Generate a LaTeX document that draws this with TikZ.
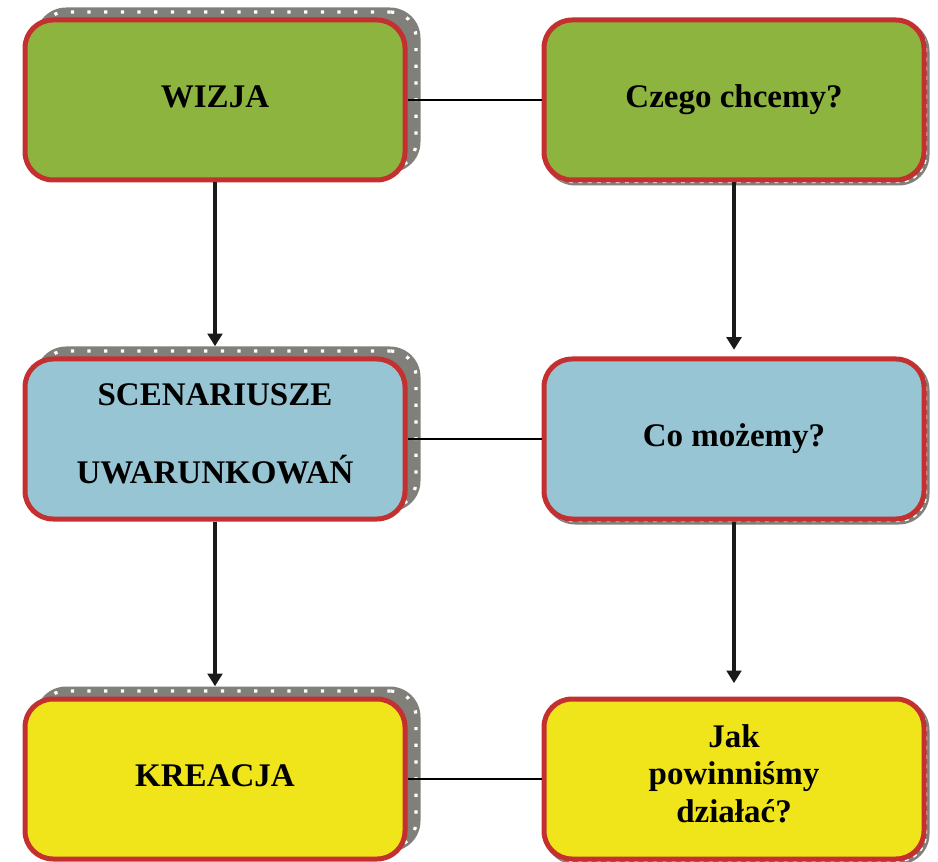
\documentclass[tikz,border=0pt]{standalone}
\usepackage{fontspec}
\setmainfont{Liberation Serif}
\usetikzlibrary{arrows.meta}

\definecolor{boxgreen}{RGB}{142,180,64}
\definecolor{boxblue}{RGB}{151,197,211}
\definecolor{boxyellow}{RGB}{240,228,26}
\definecolor{boxred}{RGB}{196,48,47}
\definecolor{shadowgray}{RGB}{128,127,122}
\definecolor{arrowblack}{RGB}{26,26,26}

\begin{document}
\begin{tikzpicture}[x=0.75pt,y=-0.75pt,
  box/.style={draw=boxred, line width=3.75pt, rounded corners=21pt,
    minimum width=285pt, minimum height=120pt, inner sep=0pt,
    font=\bfseries\fontsize{24.75pt}{28pt}\selectfont, align=center},
  oneline/.style={text height=17.3pt, text depth=6.2pt},
  bigshadow/.style={fill=shadowgray, rounded corners=23pt,
    minimum width=288.75pt, minimum height=123.75pt, inner sep=0pt},
  bigdots/.style={draw=white, line width=2.4pt, rounded corners=19pt,
    dash pattern=on 2.4pt off 10.1pt,
    minimum width=282pt, minimum height=117pt, inner sep=0pt},
  smallshadow/.style={fill=shadowgray, rounded corners=23pt,
    minimum width=288.75pt, minimum height=123.75pt, inner sep=0pt},
  smalldots/.style={draw=white, line width=1.1pt, rounded corners=21pt,
    dash pattern=on 3pt off 4pt,
    minimum width=285.75pt, minimum height=120.75pt, inner sep=0pt},
  flow/.style={draw=arrowblack, line width=2.8pt,
    -{Triangle[width=11pt,length=9.5pt]}},
  link/.style={draw=black, line width=0.9pt}
]
\useasboundingbox (0,0) rectangle (938,862);

% raised shadows behind the left column
\node[bigshadow] (wizjash) at (228,90) {};
\node[bigdots]   (wizjadots) at (228,90) {};
\node[bigshadow] (scensh) at (228,429) {};
\node[bigdots]   (scendots) at (228,429) {};
\node[bigshadow] (kreacjash) at (228,769) {};
\node[bigdots]   (kreacjadots) at (228,769) {};

% soft shadows behind the right column
\node[smallshadow] (czegosh) at (737,103) {};
\node[smalldots]   (czegodots) at (736,102) {};
\node[smallshadow] (cosh) at (737,442) {};
\node[smalldots]   (codots) at (736,441) {};
\node[smallshadow] (jaksh) at (737,782) {};
\node[smalldots]   (jakdots) at (736,781) {};

% left column
\node[box, oneline, fill=boxgreen] (wizja) at (215,100) {WIZJA};
\node[box, fill=boxblue, text depth=8pt,
  font=\bfseries\fontsize{24.75pt}{58.5pt}\selectfont] (scen) at (215,439)
  {SCENARIUSZE\\UWARUNKOWAŃ};
\node[box, oneline, fill=boxyellow] (kreacja) at (215,779) {KREACJA};

% right column
\node[box, oneline, fill=boxgreen] (czego) at (734,100) {Czego chcemy?};
\node[box, oneline, fill=boxblue] (co) at (734,439) {Co możemy?};
\node[box, fill=boxyellow, text depth=8.5pt] (jak) at (734,779)
  {Jak\\powinniśmy\\działać?};

% horizontal links
\draw[link] (wizja.east) -- (czego.west);
\draw[link] (scen.east) -- (co.west);
\draw[link] (kreacja.east) -- (jak.west);

% vertical flow arrows
\draw[flow] (wizja.south) -- (wizja.south |- scensh.north);
\draw[flow] (scen.south) -- (scen.south |- kreacjash.north);
\draw[flow, shorten >=5pt] (czego.south) -- (co.north);
\draw[flow, shorten >=10pt] (co.south) -- (jak.north);
\end{tikzpicture}
\end{document}
